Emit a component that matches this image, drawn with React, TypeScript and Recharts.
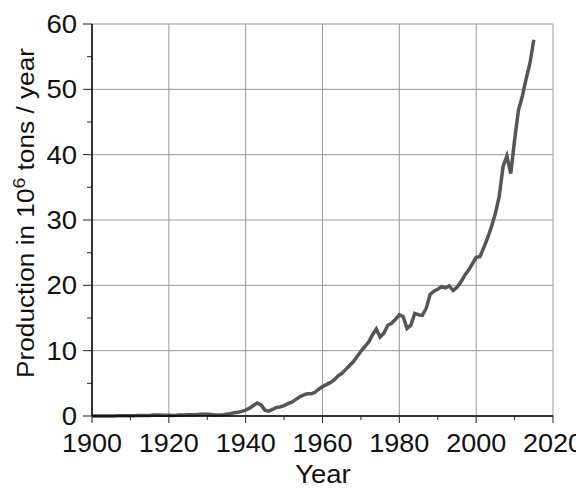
import React from 'react';
import { LineChart, Line, XAxis, YAxis, CartesianGrid } from 'recharts';

const years: number[] = [
  1900, 1901, 1902, 1903, 1904, 1905, 1906, 1907, 1908, 1909,
  1910, 1911, 1912, 1913, 1914, 1915, 1916, 1917, 1918, 1919,
  1920, 1921, 1922, 1923, 1924, 1925, 1926, 1927, 1928, 1929,
  1930, 1931, 1932, 1933, 1934, 1935, 1936, 1937, 1938, 1939,
  1940, 1941, 1942, 1943, 1944, 1945, 1946, 1947, 1948, 1949,
  1950, 1951, 1952, 1953, 1954, 1955, 1956, 1957, 1958, 1959,
  1960, 1961, 1962, 1963, 1964, 1965, 1966, 1967, 1968, 1969,
  1970, 1971, 1972, 1973, 1974, 1975, 1976, 1977, 1978, 1979,
  1980, 1981, 1982, 1983, 1984, 1985, 1986, 1987, 1988, 1989,
  1990, 1991, 1992, 1993, 1994, 1995, 1996, 1997, 1998, 1999,
  2000, 2001, 2002, 2003, 2004, 2005, 2006, 2007, 2008, 2009,
  2010, 2011, 2012, 2013, 2014, 2015,
];

const production: number[] = [
  0.007, 0.008, 0.008, 0.008, 0.009, 0.012, 0.015, 0.02, 0.02, 0.03,
  0.045, 0.046, 0.063, 0.068, 0.071, 0.082, 0.14, 0.17, 0.14, 0.13,
  0.13, 0.074, 0.097, 0.14, 0.17, 0.18, 0.19, 0.21, 0.25, 0.28,
  0.27, 0.22, 0.15, 0.14, 0.17, 0.26, 0.36, 0.49, 0.58, 0.7,
  0.9, 1.2, 1.6, 2.0, 1.7, 0.9, 0.75, 1.0, 1.3, 1.4,
  1.6, 1.9, 2.1, 2.5, 2.9, 3.2, 3.4, 3.4, 3.6, 4.1,
  4.5, 4.8, 5.1, 5.5, 6.1, 6.5, 7.1, 7.7, 8.3, 9.1,
  9.9, 10.6, 11.3, 12.4, 13.3, 12.1, 12.7, 13.9, 14.2, 14.8,
  15.5, 15.2, 13.4, 13.9, 15.7, 15.5, 15.4, 16.5, 18.6, 19.1,
  19.4, 19.8, 19.6, 19.9, 19.2, 19.7, 20.5, 21.5, 22.3, 23.3,
  24.3, 24.4, 25.8, 27.3, 29.0, 31.0, 33.6, 38.2, 39.8, 37.1,
  42.2, 46.8, 48.9, 51.6, 54.0, 57.6,
];

const xTicks: number[] = [1900, 1910, 1920, 1930, 1940, 1950, 1960, 1970, 1980, 1990, 2000, 2010, 2020];
const xLabelTicks: number[] = [1900, 1920, 1940, 1960, 1980, 2000, 2020];
const yTicks: number[] = [0, 5, 10, 15, 20, 25, 30, 35, 40, 45, 50, 55, 60];
const yLabelTicks: number[] = [0, 10, 20, 30, 40, 50, 60];

const data = years.map((year, i) => ({ year, value: production[i] }));

const FONT = '"Liberation Sans", Arial, Helvetica, sans-serif';
const PLOT_LEFT = 84;
const PLOT_BOTTOM = 408;

const XTick = (props: any) => {
  const { x, payload } = props;
  const major = xLabelTicks.includes(payload.value);
  return (
    <g>
      <line x1={x} x2={x} y1={PLOT_BOTTOM} y2={PLOT_BOTTOM + (major ? 7 : 4)} stroke="#222" strokeWidth={1} />
      {major && (
        <text
          transform={`translate(${x},${PLOT_BOTTOM + 36}) scale(1.08,1)`}
          textAnchor="middle"
          fontFamily={FONT}
          fontSize={25}
          fill="#111"
        >
          {payload.value}
        </text>
      )}
    </g>
  );
};

const YTick = (props: any) => {
  const { y, payload } = props;
  const major = yLabelTicks.includes(payload.value);
  return (
    <g>
      <line x1={PLOT_LEFT - (major ? 9 : 5)} x2={PLOT_LEFT} y1={y} y2={y} stroke="#222" strokeWidth={1} />
      {major && (
        <text
          transform={`translate(${PLOT_LEFT - 15},${y + 9}) scale(1.1,1)`}
          textAnchor="end"
          fontFamily={FONT}
          fontSize={25}
          fill="#111"
        >
          {payload.value}
        </text>
      )}
    </g>
  );
};

const YLabel = () => (
  <text
    transform="translate(26,205) rotate(-90)"
    textAnchor="middle"
    fontFamily={FONT}
    fontSize={23}
    fill="#111"
    textLength={330}
    lengthAdjust="spacingAndGlyphs"
  >
    Production in 10<tspan dy={-9} fontSize={17}>6</tspan>
    <tspan dy={9}> tons / year</tspan>
  </text>
);

const XLabel = () => (
  <text
    transform={`translate(315,475) scale(1.1,1)`}
    textAnchor="middle"
    fontFamily={FONT}
    fontSize={25}
    fill="#111"
  >
    Year
  </text>
);

export default function App() {
  return (
    <LineChart
      width={576}
      height={481}
      data={data}
      margin={{ top: 16, right: 31, left: 4, bottom: 0 }}
      style={{ background: '#fff' }}
    >
      <CartesianGrid
        stroke="#9a9a9a"
        strokeWidth={1}
        horizontalValues={yLabelTicks}
        verticalValues={xLabelTicks}
      />
      <XAxis
        dataKey="year"
        type="number"
        domain={[1900, 2020]}
        ticks={xTicks}
        interval={0}
        height={73}
        axisLine={{ stroke: '#000', strokeWidth: 1.5 }}
        tickLine={false}
        tick={<XTick />}
        label={<XLabel />}
      />
      <YAxis
        type="number"
        domain={[0, 60]}
        ticks={yTicks}
        interval={0}
        width={80}
        axisLine={{ stroke: '#000', strokeWidth: 1.5 }}
        tickLine={false}
        tick={<YTick />}
        label={<YLabel />}
      />
      <Line
        type="linear"
        dataKey="value"
        stroke="#555555"
        strokeWidth={3.5}
        dot={false}
        isAnimationActive={false}
      />
    </LineChart>
  );
}
